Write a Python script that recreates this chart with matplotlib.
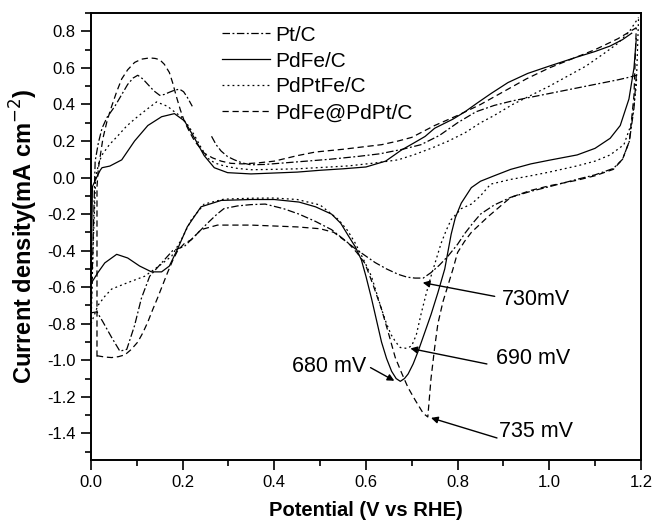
import matplotlib
matplotlib.use("Agg")
import numpy as np
import matplotlib.pyplot as plt
from matplotlib.ticker import MultipleLocator, FormatStrFormatter

plt.rcParams["font.family"] = ["Liberation Sans", "DejaVu Sans"]

nan = np.nan

# ---- data (V vs RHE, mA cm-2) ----
# Pt/C
ptc_an_x = [0.0, 0.004, 0.009, 0.016, 0.024, 0.035, 0.052, 0.066, 0.08, 0.092, 0.102, 0.113, 0.124, 0.137,
            0.15, 0.16, 0.171, 0.182, 0.193, 0.202, 0.21, 0.221, nan, 0.263, 0.273, 0.284, 0.298, 0.313,
            0.33, 0.349, 0.38, 0.42, 0.47, 0.52, 0.58, 0.63, 0.68, 0.72, 0.76, 0.8, 0.84, 0.88, 0.92,
            0.96, 1.0, 1.04, 1.08, 1.12, 1.15, 1.176, 1.19]
ptc_an_y = [-0.74, -0.4, 0.09, 0.19, 0.27, 0.33, 0.39, 0.45, 0.51, 0.545, 0.56, 0.54, 0.51, 0.475,
            0.45, 0.455, 0.467, 0.478, 0.484, 0.47, 0.44, 0.39, nan, 0.226, 0.18, 0.145, 0.115, 0.097,
            0.08, 0.07, 0.072, 0.08, 0.09, 0.1, 0.115, 0.13, 0.155, 0.18, 0.23, 0.3, 0.36, 0.395, 0.42,
            0.44, 0.46, 0.48, 0.5, 0.52, 0.535, 0.55, 0.56]
ptc_ca_x = [0.0, 0.013, 0.026, 0.045, 0.063, 0.078, 0.095, 0.11, 0.128, 0.154, 0.178, 0.204, 0.232, 0.254,
            0.275, 0.29, 0.32, 0.349, 0.38, 0.42, 0.454, 0.49, 0.525, 0.55, 0.577, 0.6, 0.62, 0.645,
            0.671, 0.69, 0.707, 0.725, 0.742, 0.76, 0.779, 0.8, 0.816, 0.833, 0.85, 0.88, 0.916, 0.96,
            1.0, 1.06, 1.1, 1.14, 1.16, 1.175, 1.185, 1.19]
ptc_ca_y = [-0.74, -0.735, -0.79, -0.875, -0.95, -0.94, -0.81, -0.66, -0.54, -0.467, -0.4, -0.376, -0.306, -0.25,
            -0.2, -0.17, -0.155, -0.148, -0.145, -0.17, -0.2, -0.24, -0.285, -0.335, -0.39, -0.43, -0.465, -0.5,
            -0.53, -0.545, -0.55, -0.55, -0.52, -0.48, -0.43, -0.365, -0.305, -0.25, -0.2, -0.15, -0.108, -0.075,
            -0.05, -0.01, 0.015, 0.05, 0.1, 0.2, 0.38, 0.56]

# PdFe/C
pdfe_an_x = [0.0, 0.003, 0.012, 0.02, 0.024, 0.041, 0.067, 0.095, 0.124, 0.154, 0.182, 0.204, 0.226, 0.247,
             0.269, 0.298, 0.349, 0.4, 0.45, 0.5, 0.55, 0.6, 0.643, 0.677, 0.705, 0.729, 0.75, 0.79, 0.816,
             0.844, 0.873, 0.91, 0.953, 1.0, 1.061, 1.1, 1.133, 1.16, 1.18]
pdfe_an_y = [-0.58, -0.05, 0.0, 0.04, 0.054, 0.063, 0.097, 0.2, 0.285, 0.333, 0.35, 0.31, 0.215, 0.12,
             0.054, 0.027, 0.02, 0.025, 0.03, 0.04, 0.048, 0.058, 0.09, 0.15, 0.19, 0.225, 0.27, 0.32, 0.36,
             0.41, 0.46, 0.52, 0.57, 0.61, 0.66, 0.69, 0.72, 0.755, 0.79]
pdfe_ca_x = [0.0, 0.015, 0.03, 0.056, 0.08, 0.106, 0.132, 0.154, 0.171, 0.189, 0.21, 0.24, 0.284, 0.349,
             0.4, 0.454, 0.49, 0.525, 0.545, 0.562, 0.577, 0.59, 0.6, 0.612, 0.623, 0.634, 0.645, 0.656,
             0.666, 0.675, 0.684, 0.692, 0.703, 0.714, 0.728, 0.742, 0.757, 0.772, 0.786, 0.795, 0.808,
             0.83, 0.85, 0.88, 0.916, 0.96, 1.0, 1.061, 1.1, 1.133, 1.155, 1.174, 1.185, 1.19]
pdfe_ca_y = [-0.58, -0.52, -0.467, -0.42, -0.44, -0.484, -0.516, -0.516, -0.484, -0.39, -0.27, -0.16, -0.125, -0.12,
             -0.12, -0.134, -0.16, -0.2, -0.25, -0.32, -0.38, -0.45, -0.54, -0.66, -0.78, -0.9, -0.99, -1.06,
             -1.1, -1.115, -1.1, -1.075, -1.02, -0.95, -0.85, -0.75, -0.63, -0.5, -0.31, -0.22, -0.14,
             -0.055, -0.02, 0.01, 0.045, 0.075, 0.095, 0.124, 0.16, 0.215, 0.285, 0.43, 0.6, 0.76]

# PdPtFe/C
pdptfe_an_x = [0.0, 0.005, 0.01, 0.017, 0.024, 0.04, 0.059, 0.077, 0.095, 0.12, 0.143, 0.167, 0.182, 0.197,
               0.212, 0.226, 0.24, 0.254, 0.27, 0.29, 0.32, 0.349, 0.4, 0.45, 0.5, 0.562, 0.62, 0.67, 0.705,
               0.742, 0.78, 0.816, 0.85, 0.88, 0.92, 0.96, 1.0, 1.04, 1.08, 1.12, 1.15, 1.175, 1.195]
pdptfe_an_y = [-0.8, -0.35, 0.0, 0.08, 0.124, 0.18, 0.23, 0.28, 0.32, 0.37, 0.414, 0.39, 0.36, 0.333,
               0.285, 0.23, 0.165, 0.107, 0.08, 0.064, 0.05, 0.043, 0.045, 0.048, 0.055, 0.064, 0.08, 0.097, 0.125,
               0.16, 0.2, 0.245, 0.3, 0.34, 0.4, 0.45, 0.5, 0.555, 0.61, 0.68, 0.735, 0.8, 0.876]
pdptfe_ca_x = [0.0, 0.015, 0.03, 0.045, 0.08, 0.117, 0.145, 0.176, 0.197, 0.219, 0.247, 0.29, 0.349, 0.4,
               0.45, 0.5, 0.54, 0.56, 0.577, 0.595, 0.612, 0.623, 0.634, 0.645, 0.655, 0.665, 0.675, 0.69,
               0.7, 0.71, 0.72, 0.731, 0.742, 0.753, 0.764, 0.775, 0.786, 0.808, 0.83, 0.85, 0.872, 0.916,
               0.96, 1.0, 1.061, 1.1, 1.133, 1.163, 1.18, 1.19, 1.195]
pdptfe_ca_y = [-0.8, -0.7, -0.65, -0.61, -0.575, -0.54, -0.49, -0.43, -0.34, -0.23, -0.145, -0.118, -0.113, -0.112,
               -0.12, -0.15, -0.23, -0.29, -0.36, -0.45, -0.54, -0.63, -0.72, -0.8, -0.86, -0.9, -0.93, -0.935,
               -0.92, -0.86, -0.75, -0.64, -0.54, -0.45, -0.36, -0.29, -0.23, -0.17, -0.145, -0.1, -0.036, -0.01,
               0.01, 0.03, 0.064, 0.09, 0.124, 0.18, 0.3, 0.5, 0.876]

# PdFe@PdPt/C
core_an_x = [0.013, 0.013, 0.016, 0.026, 0.035, 0.045, 0.056, 0.067, 0.08, 0.095, 0.11, 0.128, 0.14, 0.15,
             0.16, 0.171, 0.178, 0.186, 0.195, 0.204, 0.215, 0.226, 0.247, 0.265, 0.284, 0.305, 0.33, 0.363,
             0.4, 0.45, 0.49, 0.55, 0.6, 0.634, 0.67, 0.7, 0.75, 0.8, 0.85, 0.9, 0.95, 1.0, 1.05, 1.1,
             1.15, 1.19]
core_an_y = [-0.98, -0.05, 0.05, 0.215, 0.31, 0.39, 0.47, 0.54, 0.59, 0.63, 0.648, 0.655, 0.652, 0.645,
             0.62, 0.575, 0.52, 0.446, 0.37, 0.306, 0.25, 0.2, 0.134, 0.108, 0.09, 0.078, 0.075, 0.08,
             0.09, 0.12, 0.14, 0.155, 0.17, 0.18, 0.2, 0.22, 0.285, 0.34, 0.4, 0.47, 0.54, 0.6, 0.65, 0.7,
             0.76, 0.82]
core_ca_x = [0.013, 0.03, 0.045, 0.06, 0.074, 0.088, 0.102, 0.113, 0.124, 0.135, 0.145, 0.156, 0.167, 0.178,
             0.189, 0.204, 0.219, 0.24, 0.276, 0.349, 0.4, 0.45, 0.5, 0.53, 0.562, 0.58, 0.598, 0.616, 0.634,
             0.649, 0.664, 0.678, 0.692, 0.708, 0.725, 0.735, 0.742, 0.75, 0.757, 0.768, 0.779, 0.79, 0.8,
             0.815, 0.83, 0.866, 0.916, 0.96, 1.0, 1.06, 1.1, 1.14, 1.16, 1.175, 1.185, 1.19]
core_ca_y = [-0.975, -0.982, -0.985, -0.98, -0.97, -0.94, -0.9, -0.85, -0.79, -0.72, -0.66, -0.59, -0.52, -0.455,
             -0.4, -0.36, -0.34, -0.285, -0.26, -0.26, -0.265, -0.27, -0.28, -0.3, -0.36, -0.41, -0.47, -0.59, -0.72,
             -0.85, -0.985, -1.07, -1.15, -1.22, -1.29, -1.31, -1.1, -0.93, -0.8, -0.68, -0.59, -0.5, -0.41,
             -0.35, -0.3, -0.215, -0.108, -0.07, -0.045, -0.015, 0.01, 0.045, 0.1, 0.2, 0.45, 0.82]

labels = ["Pt/C", "PdFe/C", "PdPtFe/C", "PdFe@PdPt/C"]
styles = [(0, (6, 2, 1.5, 2)), "-", (0, (1.5, 2.5)), (0, (5, 3))]

# peak labels: text, arrow tip, arrow tail, text anchor
peak_text = ["730mV", "690 mV", "680 mV", "735 mV"]
peak_tip = [(0.724, -0.575), (0.697, -0.935), (0.662, -1.112), (0.742, -1.315)]
peak_tail = [(0.881, -0.65), (0.864, -1.02), (0.61, -1.04), (0.886, -1.425)]
peak_pos = [(0.897, -0.665), (0.883, -0.99), (0.6, -1.035), (0.89, -1.39)]
peak_ha = ["left", "left", "right", "left"]

fig = plt.figure(figsize=(6.53, 5.25), dpi=100)
ax = fig.add_axes([0.1394, 0.124, 0.842, 0.851])

curves = [
    (ptc_an_x, ptc_an_y, ptc_ca_x, ptc_ca_y),
    (pdfe_an_x, pdfe_an_y, pdfe_ca_x, pdfe_ca_y),
    (pdptfe_an_x, pdptfe_an_y, pdptfe_ca_x, pdptfe_ca_y),
    (core_an_x, core_an_y, core_ca_x, core_ca_y),
]
for (xa, ya, xc, yc), lab, ls in zip(curves, labels, styles):
    ax.plot(xa, ya, color="black", lw=0.9, linestyle=ls, label=lab)
    ax.plot(xc, yc, color="black", lw=0.9, linestyle=ls)

# peak annotations
arrow = dict(arrowstyle="-|>", color="black", lw=1.0, mutation_scale=10, shrinkA=0, shrinkB=0)
for txt, tip, tail, pos, ha in zip(peak_text, peak_tip, peak_tail, peak_pos, peak_ha):
    ax.annotate("", xy=tip, xytext=tail, arrowprops=arrow)
    ax.text(pos[0], pos[1], txt, fontsize=15.5, ha=ha, va="center")

ax.set_xlim(0, 1.2)
ax.set_ylim(-1.545, 0.9)
ax.xaxis.set_major_locator(MultipleLocator(0.2))
ax.xaxis.set_minor_locator(MultipleLocator(0.1))
ax.yaxis.set_major_locator(MultipleLocator(0.2))
ax.yaxis.set_minor_locator(MultipleLocator(0.1))
ax.xaxis.set_major_formatter(FormatStrFormatter("%.1f"))
ax.yaxis.set_major_formatter(FormatStrFormatter("%.1f"))
ax.tick_params(which="both", direction="out", width=1.2, labelsize=12)
ax.tick_params(which="major", length=7, pad=4)
ax.tick_params(which="minor", length=4)
for s in ax.spines.values():
    s.set_linewidth(1.4)

ax.set_xlabel("Potential (V vs RHE)", fontsize=14.5, fontweight="bold", labelpad=8)
ax.set_ylabel("Current density(mA cm$^{-2}$)", fontsize=17, fontweight="bold", labelpad=5)

ax.legend(loc="upper left", bbox_to_anchor=(0.215, 1.0), frameon=False, fontsize=15,
          handlelength=2.3, handletextpad=0.25, labelspacing=0.33, borderaxespad=0.2)

plt.savefig("out.png", dpi=100)
